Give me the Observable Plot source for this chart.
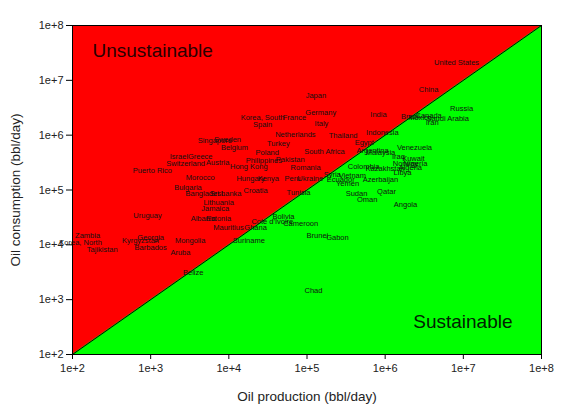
<!DOCTYPE html>
<html>
<head>
<meta charset="utf-8">
<script src="https://cdn.jsdelivr.net/npm/d3@7"></script>
<script src="https://cdn.jsdelivr.net/npm/@observablehq/plot@0.6"></script>
<style>
  html, body { margin: 0; padding: 0; background: white; }
  g[aria-label="x-axis label"] text, g[aria-label="y-axis label"] text { font-size: 13.5px; }
</style>
</head>
<body>
<div id="chart"></div>
<script>
const countries = [
  "United States","China","Japan","Germany","India","Korea, South","France","Spain","Italy",
  "Brazil","Mexico","Canada","Saudi Arabia","Russia","Iran","Netherlands","Thailand","Indonesia",
  "Turkey","Egypt","South Africa","Argentina","Malaysia","Venezuela","Poland","Singapore","Sweden",
  "Belgium","Greece","Israel","Switzerland","Austria","Puerto Rico","Morocco","Bulgaria","Bangladesh",
  "Sri Lanka","Lithuania","Jamaica","Albania","Estonia","Uruguay","Mauritius","Zambia","Korea, North",
  "Tajikistan","Georgia","Kyrgyzstan","Mongolia","Barbados","Aruba","Belize","Suriname","Ghana",
  "Cote d'Ivoire","Bolivia","Cameroon","Brunei","Gabon","Chad","Tunisia","Sudan","Oman","Qatar",
  "Angola","Kuwait","Algeria","Norway","Nigeria","Iraq","Colombia","Kazakhstan","Ecuador","Azerbaijan",
  "Yemen","Syria","Vietnam","Libya","Philippines","Pakistan","Romania","Hungary","Kenya","Peru",
  "Ukraine","Croatia","Hong Kong"
];
const production = [
  8.2e6, 3.6e6, 1.3e5, 1.5e5, 8.2e5, 2.7e4, 6.9e4, 2.7e4, 1.53e5,
  2.1e6, 2.8e6, 3.6e6, 6.3e6, 9.5e6, 4.0e6, 7.1e4, 2.9e5, 9.2e5,
  4.3e4, 5.4e5, 1.67e5, 6.9e5, 8.7e5, 2.37e6, 3.1e4, 6.6e3, 9.6e3,
  1.18e4, 4.3e3, 2.3e3, 2.8e3, 7.2e3, 1.05e3, 4.3e3, 3.0e3, 5.0e3,
  9.1e3, 7.4e3, 6.7e3, 4.7e3, 7.4e3, 9.1e2, 9.9e3, 1.56e2, 1.27e2,
  2.4e2, 1.0e3, 7.4e2, 3.2e3, 1.0e3, 2.4e3, 3.5e3, 1.8e4, 2.2e4,
  3.6e4, 5.0e4, 8.3e4, 1.36e5, 2.45e5, 1.21e5, 7.8e4, 4.3e5, 5.9e5, 1.04e6,
  1.82e6, 2.3e6, 2.1e6, 1.82e6, 2.44e6, 1.48e6, 5.3e5, 1.0e6, 2.7e5, 8.7e5,
  3.3e5, 2.1e5, 3.8e5, 1.67e6, 2.8e4, 6.1e4, 9.6e4, 1.9e4, 3.2e4, 6.5e4,
  1.1e5, 2.2e4, 1.8e4
];
const consumption = [
  2.1e7, 6.8e6, 5.3e6, 2.6e6, 2.4e6, 2.1e6, 2.1e6, 1.56e6, 1.63e6,
  2.2e6, 2.1e6, 2.3e6, 2.0e6, 3.1e6, 1.7e6, 1.03e6, 9.9e5, 1.12e6,
  7.0e5, 7.3e5, 5.0e5, 5.2e5, 4.8e5, 6.0e5, 4.8e5, 8.0e5, 8.3e5,
  6.0e5, 4.1e5, 4.0e5, 3.0e5, 3.2e5, 2.26e5, 1.69e5, 1.11e5, 8.6e4,
  8.6e4, 5.9e4, 4.6e4, 3.0e4, 3.0e4, 3.4e4, 2.07e4, 1.48e4, 1.1e4,
  8.2e3, 1.36e4, 1.2e4, 1.2e4, 8.9e3, 7.2e3, 3.1e3, 1.2e4, 2.07e4,
  2.66e4, 3.3e4, 2.45e4, 1.48e4, 1.36e4, 1.47e3, 9.0e4, 8.6e4, 6.7e4, 9.4e4,
  5.4e4, 3.75e5, 2.57e5, 3.0e5, 3.0e5, 4.1e5, 2.7e5, 2.5e5, 1.55e5, 1.55e5,
  1.31e5, 1.9e5, 1.84e5, 2.08e5, 3.45e5, 3.6e5, 2.57e5, 1.62e5, 1.62e5, 1.62e5,
  1.62e5, 9.8e4, 2.7e5
];
const axisRange = [1e2, 1e8];
const tickValues = [1e2, 1e3, 1e4, 1e5, 1e6, 1e7, 1e8];
const tickLabels = ["1e+2", "1e+3", "1e+4", "1e+5", "1e+6", "1e+7", "1e+8"];
const regionLabels = ["Unsustainable", "Sustainable"];

const data = countries.map((c, i) => ({country: c, production: production[i], consumption: consumption[i]}));
const diagonal = axisRange.map(v => ({x: v, y: v}));
const fmt = d => tickLabels[tickValues.indexOf(d)];

const chart = Plot.plot({
  width: 565,
  height: 410,
  marginLeft: 72,
  marginRight: 24,
  marginTop: 25,
  marginBottom: 56,
  x: {type: "log", domain: axisRange},
  y: {type: "log", domain: axisRange},
  style: {fontFamily: "'Liberation Sans', Arial, sans-serif", background: "white", overflow: "visible"},
  marks: [
    Plot.frame({fill: "#ff0000"}),
    Plot.areaY(diagonal, {x: "x", y1: d => axisRange[0], y2: "y", fill: "#00ff00"}),
    Plot.line(diagonal, {x: "x", y: "y", stroke: "#000", strokeWidth: 1}),
    Plot.text(data, {x: "production", y: "consumption", text: "country", fontSize: 7.5, fill: "#111"}),
    Plot.text([regionLabels[0]], {frameAnchor: "top-left", dx: 20, dy: 25, lineAnchor: "middle", fontSize: 19, fill: "#2a0000"}),
    Plot.text([regionLabels[1]], {frameAnchor: "bottom-right", dx: -29, dy: -33, lineAnchor: "middle", fontSize: 19, fill: "#002200"}),
    Plot.frame({stroke: "#000"}),
    Plot.axisX({ticks: tickValues, tickFormat: fmt, tickSize: 5, tickPadding: 5, fontSize: 11, fill: "#222",
      label: "Oil production (bbl/day)", labelAnchor: "center", labelArrow: "none", labelOffset: 46}),
    Plot.axisY({ticks: tickValues, tickFormat: fmt, tickSize: 6, tickPadding: 3, fontSize: 11, fill: "#222",
      label: "Oil consumption (bbl/day)", labelAnchor: "center", labelArrow: "none", labelOffset: 62})
  ]
});
document.getElementById("chart").appendChild(chart);
</script>
</body>
</html>
